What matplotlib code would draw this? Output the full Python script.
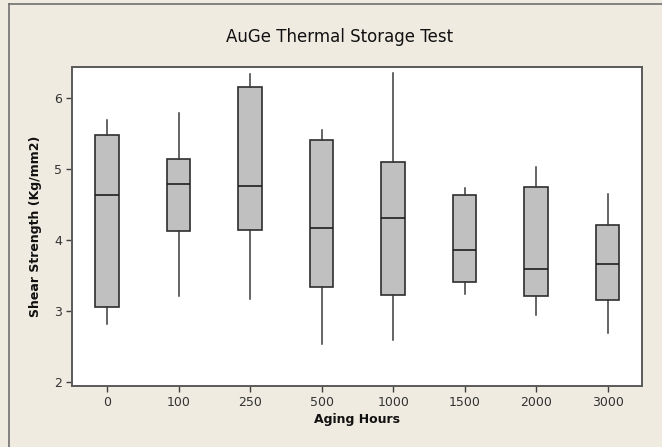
import matplotlib
matplotlib.use("Agg")
import matplotlib.pyplot as plt
from matplotlib.lines import Line2D

categories = ["0", "100", "250", "500", "1000", "1500", "2000", "3000"]
whisker_low = [2.82, 3.21, 3.17, 2.54, 2.59, 3.24, 2.94, 2.69]
q1 = [3.05, 4.12, 4.14, 3.33, 3.23, 3.41, 3.21, 3.15]
median = [4.63, 4.79, 4.76, 4.16, 4.30, 3.86, 3.59, 3.66]
q3 = [5.47, 5.13, 6.15, 5.41, 5.09, 4.63, 4.74, 4.21]
whisker_high = [5.68, 5.79, 6.33, 5.55, 6.34, 4.73, 5.03, 4.65]
y_ticks = [2, 3, 4, 5, 6]

W, H = 662, 447
bg = "#EFEBE1"
fig = plt.figure(figsize=(W / 100, H / 100), dpi=100, facecolor=bg)

# outer frame lines
fig.add_artist(Line2D([9 / W, 1], [1 - 4 / H, 1 - 4 / H], color="#707070", lw=1.2, transform=fig.transFigure))
fig.add_artist(Line2D([9 / W, 9 / W], [0, 1 - 4 / H], color="#707070", lw=1.2, transform=fig.transFigure))

left, right, top, bottom = 72, 642, 67, 386
ax = fig.add_axes([left / W, 1 - bottom / H, (right - left) / W, (bottom - top) / H])
ax.set_facecolor("white")

stats = []
for i, c in enumerate(categories):
    stats.append(dict(label=c, whislo=whisker_low[i], q1=q1[i], med=median[i],
                      q3=q3[i], whishi=whisker_high[i], fliers=[]))

ax.bxp(stats, positions=range(len(categories)), widths=0.33, patch_artist=True,
       showcaps=False, showfliers=False,
       boxprops=dict(facecolor="#C0C0C0", edgecolor="#2E2E2E", linewidth=1.2),
       medianprops=dict(color="#1E1E1E", linewidth=1.2),
       whiskerprops=dict(color="#3A3A3A", linewidth=1.1))

ax.set_xlim(-0.49, 7.48)
ax.set_ylim(1.944, 6.43)
ax.set_yticks(y_ticks)
ax.set_xticks(range(len(categories)))
ax.set_xticklabels(categories)

for s in ax.spines.values():
    s.set_color("#5A5A5A")
    s.set_linewidth(1.4)

ax.tick_params(axis="both", direction="out", length=4, width=1, color="#404040",
               labelsize=9, labelcolor="#333333", pad=3)

ax.set_xlabel("Aging Hours", fontsize=9, fontweight="bold", color="#111111", labelpad=3)
ax.set_ylabel("Shear Strength (Kg/mm2)", fontsize=9, fontweight="bold", color="#111111", labelpad=9)
fig.text(340 / W, 1 - 37 / H, "AuGe Thermal Storage Test", ha="center", va="center",
         fontsize=12, fontweight="medium", color="#111111")

fig.savefig("out.png", dpi=100, facecolor=bg)
